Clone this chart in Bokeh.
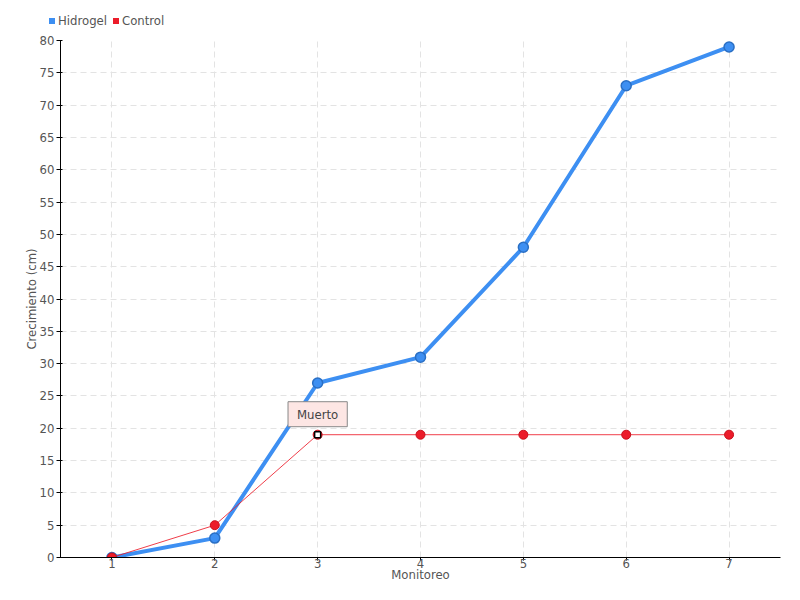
import numpy as np
from bokeh.plotting import figure
from bokeh.layouts import column
from bokeh.models import Div, Label, Range1d, FixedTicker, ColumnDataSource
from bokeh.embed import file_html
from bokeh.resources import INLINE

monitoreo = [1, 2, 3, 4, 5, 6, 7]
hidrogel = [0, 3, 27, 31, 48, 73, 79]
control = [0, 5, 19, 19, 19, 19, 19]
y_ticks = list(range(0, 85, 5))
nota_idx = 2
nota_txt = "Muerto"
series_names = ["Hidrogel", "Control"]

FONT = "DejaVu Sans Condensed"
BLUE = "#3d8ff2"
RED = "#ec1c2a"

p = figure(width=784, height=556, output_backend="svg", toolbar_location=None,
           x_range=Range1d(0.5, 7.5), y_range=Range1d(0, 80),
           min_border_left=60, min_border_right=4, min_border_top=12, min_border_bottom=22)
p.outline_line_color = None

for ax in (p.xaxis, p.yaxis):
    ax.axis_line_color = "black"
    ax.major_tick_line_color = "black"
    ax.minor_tick_line_color = None
    ax.major_label_text_font = FONT
    ax.major_label_text_font_size = "13px"
    ax.major_label_text_color = "#555555"
    ax.axis_label_text_font = FONT
    ax.axis_label_text_font_size = "13px"
    ax.axis_label_text_color = "#555555"
    ax.axis_label_text_font_style = "normal"
p.xaxis.ticker = FixedTicker(ticks=monitoreo)
p.yaxis.ticker = FixedTicker(ticks=y_ticks)
p.xaxis.major_tick_in = 0
p.xaxis.major_tick_out = 3
p.yaxis.major_tick_in = 2
p.yaxis.major_tick_out = 4
p.xaxis.axis_label = "Monitoreo"
p.yaxis.axis_label = "Crecimiento (cm)"
p.xaxis.axis_label_standoff = -4
p.xaxis.major_label_standoff = -2
p.yaxis.axis_label_standoff = -2
p.yaxis.major_label_standoff = 2

for g in (p.xgrid, p.ygrid):
    g.grid_line_color = "#e3e3e3"
    g.grid_line_dash = "6 4"
    g.grid_line_width = 1
p.xgrid.ticker = FixedTicker(ticks=monitoreo)
p.ygrid.ticker = FixedTicker(ticks=y_ticks)

src = ColumnDataSource(dict(x=monitoreo, h=hidrogel, c=control))
p.line("x", "h", source=src, line_color=BLUE, line_width=4)
p.scatter("x", "h", source=src, size=10, fill_color=BLUE, line_color="#2a6fc4", line_width=1.5)
p.line("x", "c", source=src, line_color=RED, line_width=1, line_alpha=0.85)
p.scatter("x", "c", source=src, size=9, fill_color=RED, line_color="#c8101c", line_width=1)

# marked point
p.scatter([monitoreo[nota_idx]], [control[nota_idx]], marker="square", size=6,
          fill_color="white", line_color="black", line_width=1.5)

lbl = Label(x=monitoreo[nota_idx], y=control[nota_idx], text=nota_txt, x_units="data", y_units="data",
            text_align="center", text_baseline="bottom", y_offset=8,
            text_font=FONT, text_font_size="13px", text_color="#444444",
            background_fill_color="#fde6e4", background_fill_alpha=1.0,
            border_line_color="#888888", border_line_width=1, padding=(9, 5))
p.add_layout(lbl)

# legend as html header
def item(color, name):
    return (f'<span style="display:inline-block;width:6px;height:6px;background:{color};'
            f'margin-right:3px;vertical-align:middle"></span>'
            f'<span style="vertical-align:middle;margin-right:6px">{name}</span>')

legend_html = (f'<div style="position:absolute;left:49px;top:12px;white-space:nowrap;'
               f'font-family:\'{FONT}\';font-size:13px;color:#555555;line-height:16px">'
               + item(BLUE, series_names[0]) + item(RED, series_names[1]) + '</div>')
hdr = Div(text=legend_html, width=784, height=28, margin=(0, 0, 0, 0),
          styles={"position": "relative"})

open("out.html", "w").write(file_html(column(hdr, p, spacing=0), INLINE))
